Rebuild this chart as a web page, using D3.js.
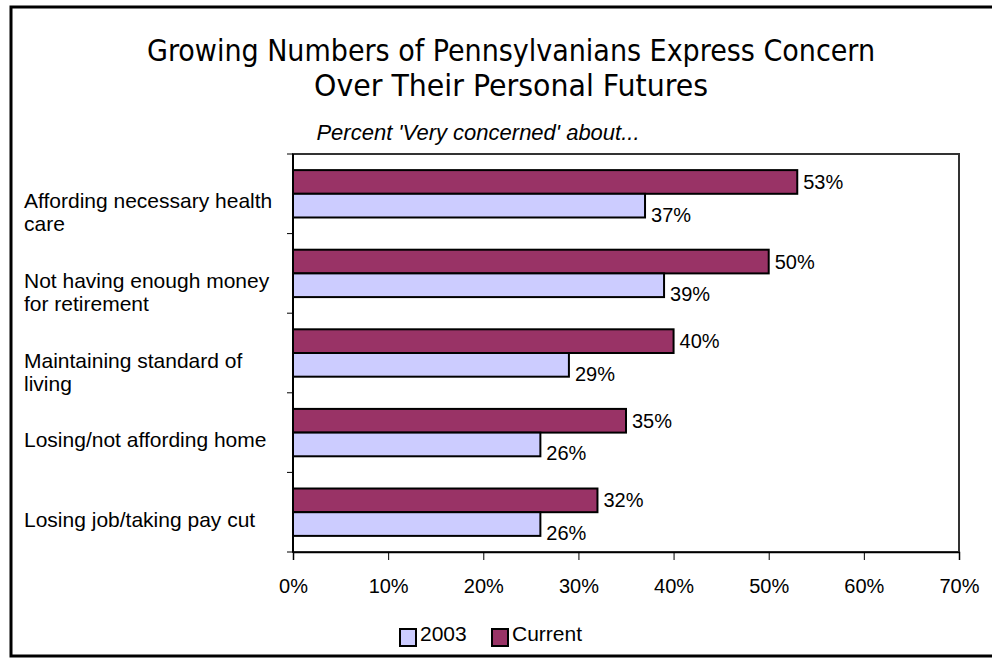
<!DOCTYPE html>
<html>
<head>
<meta charset="utf-8">
<script src="https://cdn.jsdelivr.net/npm/d3@7"></script>
<style>
  html, body { margin: 0; padding: 0; background: #fff; }
  svg { display: block; }
  text { font-family: "Liberation Sans", Arial, sans-serif; fill: #000; }
</style>
</head>
<body>
<svg id="chart" width="992" height="658"></svg>
<script>
// Survey items, top to bottom
const categories = [
  ["Affording necessary health", "care"],
  ["Not having enough money", "for retirement"],
  ["Maintaining standard of", "living"],
  ["Losing/not affording home"],
  ["Losing job/taking pay cut"]
];
const seriesNames = ["2003", "Current"];
const values2003 = [37, 39, 29, 26, 26];
const valuesCurrent = [53, 50, 40, 35, 32];
const xTicks = [0, 10, 20, 30, 40, 50, 60, 70];
const titleLines = ["Growing Numbers of Pennsylvanians Express Concern", "Over Their Personal Futures"];
const subtitle = "Percent 'Very concerned' about...";

const colors = { "2003": "#CCCCFF", "Current": "#993366" };

const svg = d3.select("#chart");
const W = 992, H = 658;
const plot = { left: 293, right: 959, top: 154, bottom: 552 };

svg.append("rect").attr("width", W).attr("height", H).attr("fill", "#fff");

// outer frame
svg.append("rect")
  .attr("x", 11).attr("y", 7).attr("width", 990).attr("height", 649)
  .attr("fill", "none").attr("stroke", "#000").attr("stroke-width", 3);

// title: tall, narrow lettering
const titleWidths = [728, 394];
svg.selectAll(".title").data(titleLines).join("text")
  .attr("class", "title")
  .attr("x", 511).attr("y", (d, i) => 61 + i * 35)
  .attr("text-anchor", "middle")
  .attr("textLength", (d, i) => titleWidths[i])
  .attr("lengthAdjust", "spacingAndGlyphs")
  .style("font-family", "'DejaVu Sans Condensed', 'DejaVu Sans', sans-serif")
  .style("font-size", "30px")
  .text(d => d);

svg.append("text")
  .attr("x", 478).attr("y", 140)
  .attr("text-anchor", "middle")
  .style("font-style", "italic")
  .style("font-size", "22px")
  .text(subtitle);

const x = d3.scaleLinear().domain([0, 70]).range([plot.left, plot.right]);
const y = d3.scaleBand().domain(d3.range(categories.length)).range([plot.top, plot.bottom]);
const inner = d3.scaleBand().domain(["Current", "2003"]).range([0, y.bandwidth()]).paddingOuter(0.68);

// plot area frame
svg.append("rect")
  .attr("x", plot.left).attr("y", plot.top)
  .attr("width", plot.right - plot.left).attr("height", plot.bottom - plot.top)
  .attr("fill", "none").attr("stroke", "#333").attr("stroke-width", 2);

// x axis
const xAxis = d3.axisBottom(x).tickValues(xTicks).tickSize(8).tickFormat(d => d + "%");
const gx = svg.append("g").attr("transform", `translate(0,${plot.bottom})`).call(xAxis);
gx.select(".domain").attr("stroke", "#000").attr("stroke-width", 1.5);
gx.selectAll(".tick line").attr("stroke", "#000");
gx.selectAll(".tick text")
  .attr("y", 0).attr("dy", 0)
  .attr("transform", "translate(0,41)")
  .style("font-family", "'Liberation Sans', Arial, sans-serif")
  .style("font-size", "20px").attr("fill", "#000");

// y axis ticks at category boundaries
const yBounds = d3.range(categories.length + 1).map(i => plot.top + i * y.step());
svg.append("line")
  .attr("x1", plot.left).attr("x2", plot.left)
  .attr("y1", plot.top).attr("y2", plot.bottom)
  .attr("stroke", "#000").attr("stroke-width", 2);
svg.selectAll(".ytick").data(yBounds).join("line")
  .attr("class", "ytick")
  .attr("x1", plot.left - 6).attr("x2", plot.left)
  .attr("y1", d => d).attr("y2", d => d)
  .attr("stroke", "#000").attr("stroke-width", 1);

// bars
const barData = [];
categories.forEach((c, i) => {
  barData.push({ i, s: "Current", v: valuesCurrent[i] });
  barData.push({ i, s: "2003", v: values2003[i] });
});

svg.selectAll(".bar").data(barData).join("rect")
  .attr("class", "bar")
  .attr("x", x(0))
  .attr("y", d => y(d.i) + inner(d.s))
  .attr("width", d => x(d.v) - x(0))
  .attr("height", inner.bandwidth())
  .attr("fill", d => colors[d.s])
  .attr("stroke", "#000").attr("stroke-width", 2);

// value labels
svg.selectAll(".vlab").data(barData).join("text")
  .attr("class", "vlab")
  .attr("x", d => x(d.v) + 6)
  .attr("y", d => y(d.i) + inner(d.s) + inner.bandwidth() / 2 + (d.s === "2003" ? 9 : 0))
  .attr("dy", "0.35em")
  .style("font-size", "20px")
  .text(d => d.v + "%");

// category labels
const catG = svg.selectAll(".cat").data(categories).join("text")
  .attr("class", "cat")
  .style("font-size", "21px");
catG.each(function(lines, i) {
  d3.select(this).selectAll("tspan").data(lines).join("tspan")
    .attr("x", 24)
    .attr("y", (d, j) => y(i) + 47 + j * 23)
    .attr("dy", "0.35em")
    .text(d => d);
});

// legend
const legendItems = seriesNames.map((s, k) => ({ s, x: k === 0 ? 400 : 492 }));
const lg = svg.append("g").attr("class", "legend");
lg.selectAll("rect").data(legendItems).join("rect")
  .attr("x", d => d.x).attr("y", 629).attr("width", 16).attr("height", 17)
  .attr("fill", d => colors[d.s]).attr("stroke", "#000").attr("stroke-width", 2);
lg.selectAll("text").data(legendItems).join("text")
  .attr("x", d => d.x + 20).attr("y", 634).attr("dy", "0.35em")
  .style("font-size", "21px")
  .text(d => d.s);
</script>
</body>
</html>
